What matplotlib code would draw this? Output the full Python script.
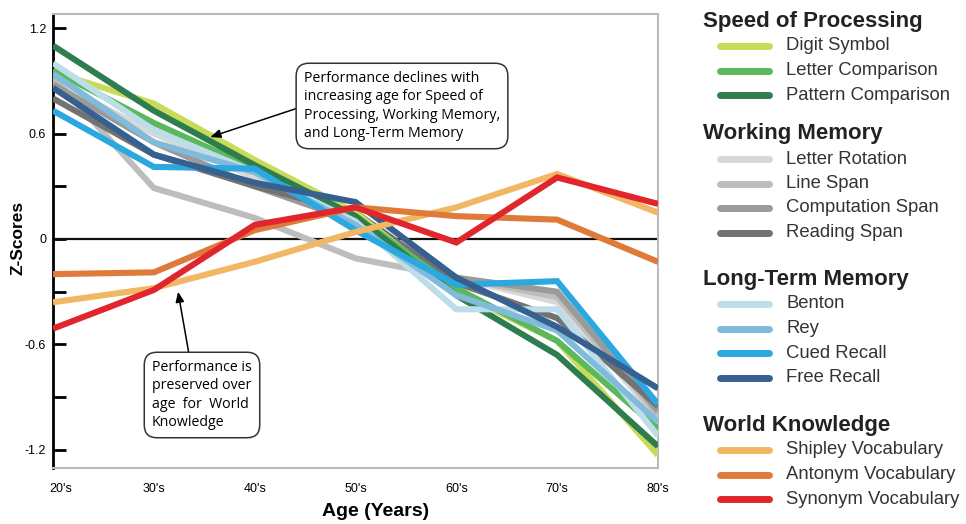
import matplotlib
matplotlib.use('Agg')
import matplotlib.pyplot as plt
from matplotlib.lines import Line2D
from matplotlib.transforms import ScaledTranslation

# ---------------- data ----------------
ages = ["20's", "30's", "40's", "50's", "60's", "70's", "80's"]

digit_symbol       = [0.95, 0.77, 0.45, 0.15, -0.30, -0.58, -1.23]
letter_comparison  = [0.96, 0.66, 0.40, 0.13, -0.28, -0.58, -1.08]
pattern_comparison = [1.10, 0.73, 0.42, 0.13, -0.32, -0.66, -1.18]

letter_rotation    = [0.90, 0.60, 0.35, 0.12, -0.22, -0.36, -1.02]
line_span          = [0.92, 0.29, 0.12, -0.11, -0.22, -0.33, -1.00]
computation_span   = [0.88, 0.55, 0.30, 0.10, -0.22, -0.30, -0.98]
reading_span       = [0.80, 0.48, 0.30, 0.15, -0.25, -0.45, -0.95]

benton             = [1.00, 0.62, 0.38, 0.10, -0.40, -0.40, -1.12]
rey                = [0.94, 0.55, 0.38, 0.08, -0.32, -0.52, -1.04]
cued_recall        = [0.73, 0.41, 0.40, 0.05, -0.26, -0.24, -0.94]
free_recall        = [0.86, 0.48, 0.32, 0.21, -0.22, -0.50, -0.85]

shipley_vocab      = [-0.36, -0.28, -0.13, 0.04, 0.18, 0.37, 0.15]
antonym_vocab      = [-0.20, -0.19, 0.05, 0.18, 0.13, 0.11, -0.13]
synonym_vocab      = [-0.51, -0.29, 0.08, 0.18, -0.02, 0.35, 0.20]

groups = [
    ("Speed of Processing", [
        ("Digit Symbol", digit_symbol, '#c8dc5a'),
        ("Letter Comparison", letter_comparison, '#5cb85c'),
        ("Pattern Comparison", pattern_comparison, '#2e7d4f'),
    ]),
    ("Working Memory", [
        ("Letter Rotation", letter_rotation, '#d8d8d8'),
        ("Line Span", line_span, '#bdbdbd'),
        ("Computation Span", computation_span, '#9a9a9a'),
        ("Reading Span", reading_span, '#727272'),
    ]),
    ("Long-Term Memory", [
        ("Benton", benton, '#bcdde9'),
        ("Rey", rey, '#80bbdb'),
        ("Cued Recall", cued_recall, '#2aa8df'),
        ("Free Recall", free_recall, '#35608f'),
    ]),
    ("World Knowledge", [
        ("Shipley Vocabulary", shipley_vocab, '#f2b764'),
        ("Antonym Vocabulary", antonym_vocab, '#e07a3a'),
        ("Synonym Vocabulary", synonym_vocab, '#e0262c'),
    ]),
]

y_major = [1.2, 0.6, 0, -0.6, -1.2]
y_major_labels = ['1.2', '0.6', '0', '-0.6', '-1.2']
y_minor = [0.9, 0.3, -0.3, -0.9]

# ---------------- figure ----------------
W, H = 966, 524
fig = plt.figure(figsize=(W / 100, H / 100), dpi=100)
fig.patch.set_facecolor('white')

def fx(px):
    return px / W

def fy(py):
    return 1 - py / H

ax = fig.add_axes([fx(53), fy(468), fx(658) - fx(53), fy(14) - fy(468)])

narrow = ['Liberation Sans Narrow', 'Liberation Sans', 'DejaVu Sans']
sans = ['Liberation Sans', 'DejaVu Sans']
annot_font = ['Open Sans', 'DejaVu Sans']

xs = list(range(len(ages)))
lw = 4.4
draw_order = [1, 0, 2, 3]
for gi in draw_order:
    for name, vals, col in groups[gi][1]:
        ax.plot(xs, vals, color=col, lw=lw, solid_capstyle='butt',
                solid_joinstyle='miter', zorder=3)

ax.axhline(0, color='#111111', lw=1.6, zorder=2)

ax.set_xlim(0, 6)
ax.set_ylim(-1.303, 1.28)

ax.set_yticks(y_major)
ax.set_yticklabels(y_major_labels, family=narrow, fontsize=9)
ax.set_yticks(y_minor, minor=True)
ax.tick_params(axis='y', which='both', direction='in', length=9, width=2,
               color='black', pad=5)
ax.set_xticks(xs)
ax.set_xticklabels(ages, family=narrow, fontsize=9)
ax.tick_params(axis='x', length=0, pad=11)
first = ax.get_xticklabels()[0]
first.set_transform(first.get_transform() +
                    ScaledTranslation(8 / 100, 0, fig.dpi_scale_trans))

for s in ['top', 'right', 'bottom']:
    ax.spines[s].set_color('#bbbbbb')
    ax.spines[s].set_linewidth(1.5)
ax.spines['left'].set_color('black')
ax.spines['left'].set_linewidth(2)

fig.text(fx(18), fy(238), 'Z-Scores', rotation=90, ha='center', va='center',
         fontsize=12.5, fontweight='bold', family=sans)
fig.text(fx(376), fy(512), 'Age (Years)', ha='center', va='center',
         fontsize=14, fontweight='bold', family=sans)

# ---------------- annotations ----------------
box = dict(boxstyle='round,pad=0.55,rounding_size=0.9', fc='white',
           ec='#333333', lw=1.1)
ax.annotate("Performance declines with\nincreasing age for Speed of\n"
            "Processing, Working Memory,\nand Long-Term Memory",
            xy=(1.56, 0.58), xycoords='data',
            xytext=(fx(402), fy(106)), textcoords='figure fraction',
            ha='center', va='center', multialignment='left',
            fontsize=10.2, family=annot_font,
            linespacing=1.3, bbox=box, zorder=6,
            arrowprops=dict(arrowstyle='-|>,head_length=0.6,head_width=0.25',
                            color='black', lw=1.1, shrinkA=0, shrinkB=0,
                            relpos=(0.0, 0.5)))
ax.annotate("Performance is\npreserved over\nage  for  World\nKnowledge",
            xy=(1.24, -0.30), xycoords='data',
            xytext=(fx(202), fy(395)), textcoords='figure fraction',
            ha='center', va='center', multialignment='left',
            fontsize=10.2, family=annot_font,
            linespacing=1.3, bbox=box, zorder=6,
            arrowprops=dict(arrowstyle='-|>,head_length=0.6,head_width=0.25',
                            color='black', lw=1.1, shrinkA=0, shrinkB=0,
                            relpos=(0.38, 1.0)))

# ---------------- legend ----------------
header_y = [21, 134, 279, 425]
item_gap = 24.5
for (title, items), hy in zip(groups, header_y):
    fig.text(fx(703), fy(hy), title, ha='left', va='center', fontsize=16,
             fontweight='bold', family=sans, color='#222222')
    for k, (name, vals, col) in enumerate(items):
        iy = hy + 25 + k * item_gap
        fig.add_artist(Line2D([fx(720), fx(769)], [fy(iy), fy(iy)],
                              transform=fig.transFigure, color=col, lw=5,
                              solid_capstyle='round'))
        fig.text(fx(786), fy(iy), name, ha='left', va='center', fontsize=13.3,
                 family=sans, color='#333333')

fig.savefig('out.png', dpi=100, facecolor='white')
